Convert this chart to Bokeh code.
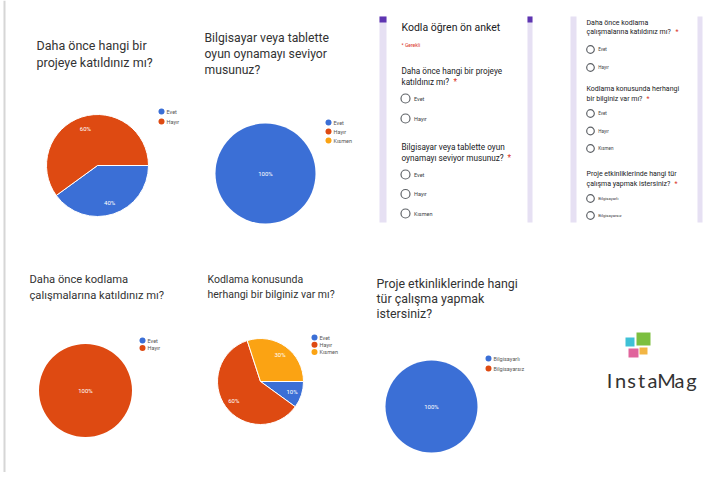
import numpy as np
from bokeh.plotting import figure
from bokeh.models import Range1d
from bokeh.core.properties import value
from bokeh.embed import file_html
from bokeh.resources import INLINE

# ---------------- data ----------------
q1_title = ["Daha önce hangi bir", "projeye katıldınız mı?"]
q1_labels = ["Evet", "Hayır"]
q1_values = [40, 60]

q2_title = ["Bilgisayar veya tablette", "oyun oynamayı seviyor", "musunuz?"]
q2_labels = ["Evet", "Hayır", "Kısmen"]
q2_values = [100, 0, 0]

q3_title = ["Daha önce kodlama", "çalışmalarına katıldınız mı?"]
q3_labels = ["Evet", "Hayır"]
q3_values = [0, 100]

q4_title = ["Kodlama konusunda", "herhangi bir bilginiz var mı?"]
q4_labels = ["Evet", "Hayır", "Kısmen"]
q4_values = [10, 60, 30]

q5_title = ["Proje etkinliklerinde hangi", "tür çalışma yapmak", "istersiniz?"]
q5_labels = ["Bilgisayarlı", "Bilgisayarsız"]
q5_values = [100, 0]

form_title = "Kodla öğren ön anket"
form_required = "* Gerekli"
brand = "InstaMag"

BLUE, RED, YEL = "#3b6fd6", "#de4a12", "#fba313"
PALETTE = [BLUE, RED, YEL]
FONT = value("Roboto")

PW, PH = 704, 472


def Y(v):
    return 488 - v


p = figure(width=PW, height=PH, x_range=Range1d(0, PW), y_range=Range1d(488 - PH, 488),
           output_backend="svg", toolbar_location=None,
           x_axis_location=None, y_axis_location=None, min_border=0)
p.grid.visible = False
p.outline_line_color = None
p.background_fill_color = "white"
p.border_fill_color = "white"

# outer frame line
p.segment(x0=[4], y0=[Y(0)], x1=[4], y1=[Y(482)], line_color="#d6d6d6", line_width=2)


def text(x, y, s, size, color="#202124", align="left", font=FONT, style="normal"):
    p.text(x=[x], y=[Y(y)], text=[s], text_font=font, text_font_size=f"{size}px",
           text_color=color, text_align=align, text_baseline="middle", text_font_style=style)


def title(x, y0, lines, size, gap):
    for i, ln in enumerate(lines):
        text(x, y0 + i * gap, ln, size, color="#333333")


def pie(cx, cy, r, labels, values, lx, ly, lgap):
    vals = np.array(values, dtype=float)
    fr = vals / vals.sum()
    ends = np.cumsum(fr)
    starts = ends - fr
    for i, (f, s, e) in enumerate(zip(fr, starts, ends)):
        c = PALETTE[i]
        if f <= 0:
            continue
        if f >= 0.9999:
            p.circle(x=[cx], y=[Y(cy)], radius=r, fill_color=c, line_color=None)
            tx, ty = cx, cy
        else:
            p.wedge(x=[cx], y=[Y(cy)], radius=r, start_angle=-s * 2 * np.pi,
                    end_angle=-e * 2 * np.pi, direction="clock",
                    fill_color=c, line_color="white", line_width=1)
            m = (s + e) / 2 * 2 * np.pi
            tx, ty = cx + 0.77 * r * np.cos(m), cy + 0.77 * r * np.sin(m)
        text(tx, ty, f"{round(f * 100)}%", 6, color="white", align="center")
    for i, lab in enumerate(labels):
        p.scatter(x=[lx], y=[Y(ly + i * lgap)], size=6, marker="circle",
                  fill_color=PALETTE[i], line_color=None)
        text(lx + 5, ly + i * lgap, lab, 5.5, color="#555555")


# ----- pie charts -----
title(36, 45, q1_title, 12.5, 17)
pie(97, 165, 51, q1_labels, q1_values, 161, 111, 10)

title(204, 37, q2_title, 12.2, 16)
pie(265, 173, 50, q2_labels, q2_values, 328, 122, 9)

title(29, 279, q3_title, 11.2, 16)
pie(85, 390, 46.5, q3_labels, q3_values, 142, 340, 7.5)

title(207, 279, q4_title, 10.5, 14.5)
pie(260, 381, 43, q4_labels, q4_values, 314, 337, 7.3)

title(376, 283, q5_title, 12.4, 15)
pie(431, 406, 46, q5_labels, q5_values, 488, 358, 10)

# ----- form panels -----
LAV, PUR = "#e6e0f3", "#5e35b1"
for (x0, x1) in [(379, 386), (527, 532), (570, 576), (697, 702)]:
    p.quad(left=[x0], right=[x1], top=[Y(16)], bottom=[Y(222)], fill_color=LAV, line_color=None)
for (x0, x1) in [(379, 386), (527, 532)]:
    p.quad(left=[x0], right=[x1], top=[Y(16)], bottom=[Y(22)], fill_color=PUR, line_color=None)

STAR = "#d93025"
OPT = "#5f6368"


def radio(x, y, r, lab, size):
    p.circle(x=[x], y=[Y(y)], radius=r, fill_color=None, line_color=OPT, line_width=1.2)
    text(x + r + 4, y, lab, size, color="#3c4043")


# panel A
text(401, 27, form_title, 10.5, color="#202124")
text(401, 44, form_required, 5, color=STAR)
text(401, 70, "Daha önce hangi bir projeye", 8.2)
text(401, 81, "katıldınız mı?", 8.2)
text(453, 81, "*", 8.2, color=STAR)
radio(405, 98, 4.5, q1_labels[0], 5.5)
radio(405, 118, 4.5, q1_labels[1], 5.5)
text(401, 146, "Bilgisayar veya tablette oyun", 8.2)
text(401, 157, "oynamayı seviyor musunuz?", 8.2)
text(507, 157, "*", 8.2, color=STAR)
for i, lab in enumerate(q2_labels):
    radio(405, 174 + i * 19.5, 4.5, lab, 5.5)

# panel B
text(586, 22, "Daha önce kodlama", 7)
text(586, 31, "çalışmalarına katıldınız mı?", 7)
text(675, 31, "*", 7, color=STAR)
radio(590, 49, 3.8, q3_labels[0], 4.5)
radio(590, 67, 3.8, q3_labels[1], 4.5)
text(586, 88, "Kodlama konusunda herhangi", 7)
text(586, 98, "bir bilginiz var mı?", 7)
text(646, 98, "*", 7, color=STAR)
for i, lab in enumerate(q4_labels):
    radio(590, 113 + i * 17.5, 3.8, lab, 4.5)
text(586, 173, "Proje etkinliklerinde hangi tür", 7)
text(586, 183, "çalışma yapmak istersiniz?", 7)
text(674, 183, "*", 7, color=STAR)
for i, lab in enumerate(q5_labels):
    radio(590, 198 + i * 17, 3.8, lab, 4.2)

# ----- InstaMag logo -----
for (l, r, t, b, c) in [(625, 634, 337, 346, "#3fc1d6"), (636, 650, 332, 345, "#7cbf3f"),
                        (628, 638, 348, 357, "#e0649c"), (639, 647, 347, 354, "#f2b544")]:
    p.quad(left=[l], right=[r], top=[Y(t)], bottom=[Y(b)], fill_color=c, line_color=None)
xs = [609, 620, 631, 641, 652, 666, 679, 691]
for ch, x in zip(brand, xs):
    text(x, 379, ch, 20, color="#333333", align="center", font=value("Lato"))

open("out.html", "w").write(file_html(p, INLINE))
